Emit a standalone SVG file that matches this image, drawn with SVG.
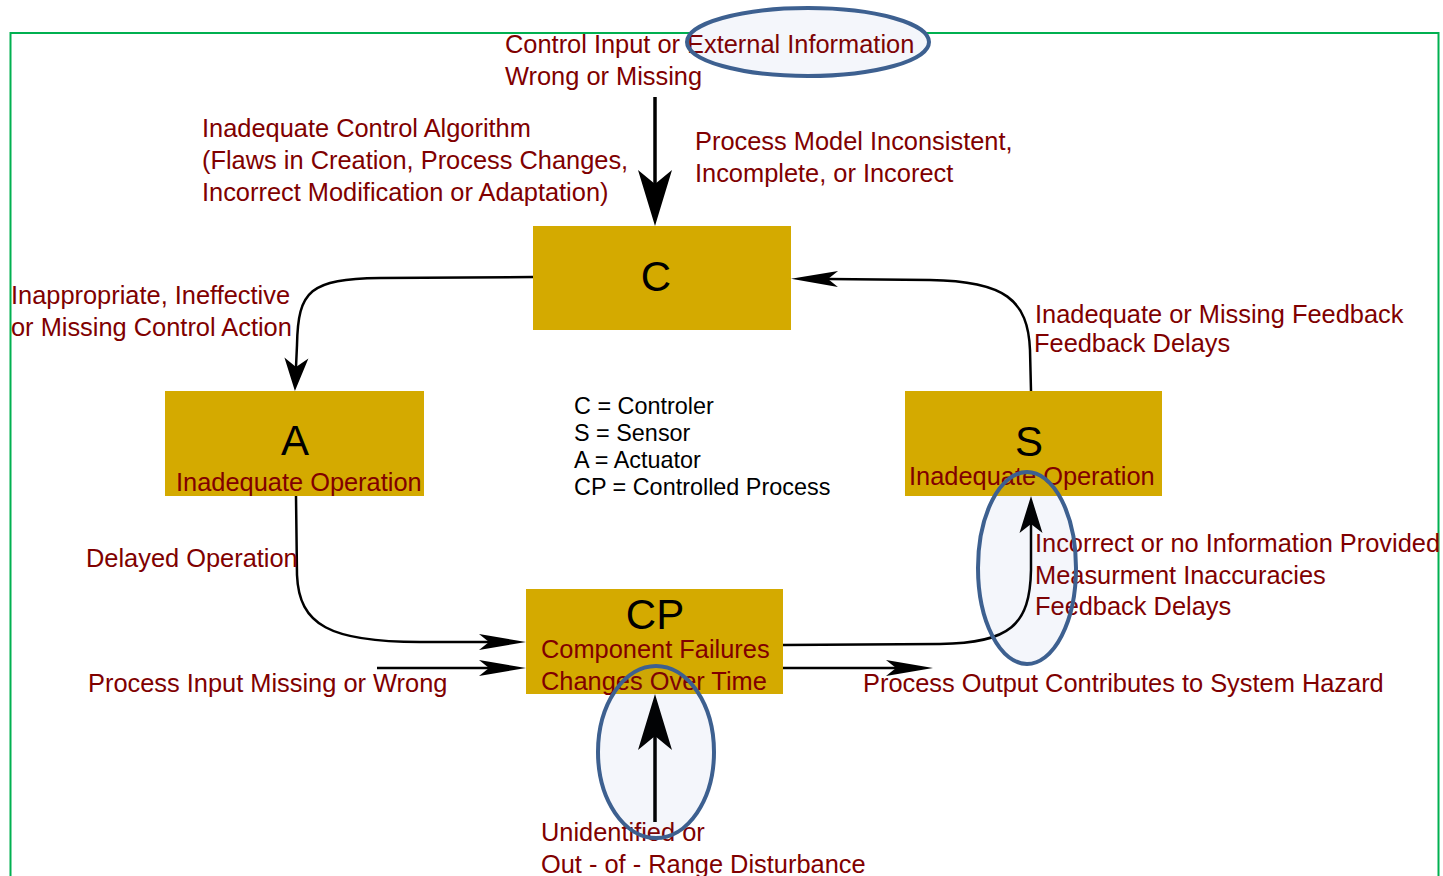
<svg xmlns="http://www.w3.org/2000/svg" width="1443" height="876" viewBox="0 0 1443 876">
<style>
.box{fill:#d4aa00}
.lbl{font-family:"Liberation Sans",Arial,sans-serif;font-size:25.4px;fill:#800000}
.big{font-family:"Liberation Sans",Arial,sans-serif;font-size:42px;fill:#000;text-anchor:middle}
.leg{font-family:"Liberation Sans",Arial,sans-serif;font-size:23.4px;fill:#000}
.wire{fill:none;stroke:#000;stroke-width:2.5}
.thick{fill:none;stroke:#000;stroke-width:3.5}
.hl{stroke:#3d6090;stroke-width:4;fill:#3c5a8c;fill-opacity:0.035}
.hlbase{fill:#fbfcff;stroke:none}
</style>
<defs>
<marker id="mBig" markerUnits="userSpaceOnUse" orient="auto" viewBox="-58 -19 60 38" markerWidth="60" markerHeight="38" refX="-42" refY="0"><path d="M0,0 L-56,-17 L-42,0 L-56,17 Z" fill="#000"/></marker>
<marker id="mMed" markerUnits="userSpaceOnUse" orient="auto" viewBox="-39 -14 41 28" markerWidth="41" markerHeight="28" refX="-28" refY="0"><path d="M0,0 L-37,-11.5 L-28,0 L-37,11.5 Z" fill="#000"/></marker>
<marker id="mA" markerUnits="userSpaceOnUse" orient="auto" viewBox="-35 -14 37 28" markerWidth="37" markerHeight="28" refX="-24" refY="0"><path d="M0,0 L-33,-12 L-24,0 L-33,12 Z" fill="#000"/></marker>
<marker id="mThin" markerUnits="userSpaceOnUse" orient="auto" viewBox="-49 -10 51 20" markerWidth="51" markerHeight="20" refX="-37" refY="0"><path d="M0,0 L-47,-8 L-37,0 L-47,8 Z" fill="#000"/></marker>
</defs>
<rect x="10.5" y="33" width="1428" height="900" fill="none" stroke="#00b050" stroke-width="2"/>
<g id="highlight-bases">
<ellipse class="hlbase" cx="808" cy="42" rx="121" ry="34"/>
<ellipse class="hlbase" cx="1027" cy="568" rx="49" ry="96"/>
<ellipse class="hlbase" cx="656" cy="752" rx="58" ry="86"/>
</g>
<g id="node-C"><rect class="box" x="533" y="226" width="258" height="104"/><text class="big" x="656" y="291">C</text></g>
<g id="node-A"><rect class="box" x="165" y="391" width="259" height="105"/><text class="big" x="295" y="455">A</text><text class="lbl" x="176" y="491">Inadequate Operation</text></g>
<g id="node-S"><rect class="box" x="905" y="391" width="257" height="105"/><text class="big" x="1029" y="456">S</text><text class="lbl" x="909" y="485">Inadequate Operation</text></g>
<g id="node-CP"><rect class="box" x="526" y="589" width="257" height="105"/><text class="big" x="655" y="629">CP</text><text class="lbl" x="541" y="658">Component Failures</text><text class="lbl" x="541" y="690">Changes Over Time</text></g>
<g id="connectors">
<path class="thick" d="M655,97 L655,184" marker-end="url(#mBig)"/>
<path class="wire" d="M533,277 L380,278 C310,279 298,290 297,345 L296,367" marker-end="url(#mA)"/>
<path class="wire" d="M1031,391 L1030,350 C1028,300 1005,281 930,280 L828,279" marker-end="url(#mThin)"/>
<path class="wire" d="M296,496 L297,575 C299,625 330,642 420,642 L489,642" marker-end="url(#mThin)"/>
<path class="wire" d="M377,668 L489,668" marker-end="url(#mThin)"/>
<path class="wire" d="M783,645 L940,644 C1010,643 1030,625 1031,570 L1031,524" marker-end="url(#mMed)"/>
<path class="wire" d="M783,668 L896,668" marker-end="url(#mThin)"/>
<path class="thick" d="M655,822 L655,736" marker-end="url(#mBig)"/>
</g>
<g id="labels">
<text class="lbl" x="505" y="53">Control Input or External Information</text>
<text class="lbl" x="505" y="85">Wrong or Missing</text>
<text class="lbl" x="202" y="137">Inadequate Control Algorithm</text>
<text class="lbl" x="202" y="169">(Flaws in Creation, Process Changes,</text>
<text class="lbl" x="202" y="201">Incorrect Modification or Adaptation)</text>
<text class="lbl" x="695" y="150">Process Model Inconsistent,</text>
<text class="lbl" x="695" y="182">Incomplete, or Incorect</text>
<text class="lbl" x="11" y="304">Inappropriate, Ineffective</text>
<text class="lbl" x="11" y="336">or Missing Control Action</text>
<text class="lbl" x="1035" y="323">Inadequate or Missing Feedback</text>
<text class="lbl" x="1034" y="352">Feedback Delays</text>
<text class="lbl" x="1035" y="552">Incorrect or no Information Provided</text>
<text class="lbl" x="1035" y="584">Measurment Inaccuracies</text>
<text class="lbl" x="1035" y="615">Feedback Delays</text>
<text class="lbl" x="86" y="567">Delayed Operation</text>
<text class="lbl" x="88" y="692">Process Input Missing or Wrong</text>
<text class="lbl" x="863" y="692">Process Output Contributes to System Hazard</text>
<text class="lbl" x="541" y="841">Unidentified or</text>
<text class="lbl" x="541" y="873">Out - of - Range Disturbance</text>
</g>
<g id="legend">
<text class="leg" x="574" y="414">C = Controler</text>
<text class="leg" x="574" y="441">S = Sensor</text>
<text class="leg" x="574" y="468">A = Actuator</text>
<text class="leg" x="574" y="495">CP = Controlled Process</text>
</g>
<g id="highlights">
<ellipse class="hl" cx="808" cy="42" rx="121" ry="34"/>
<ellipse class="hl" cx="1027" cy="568" rx="49" ry="96"/>
<ellipse class="hl" cx="656" cy="752" rx="58" ry="86"/>
</g>
</svg>
